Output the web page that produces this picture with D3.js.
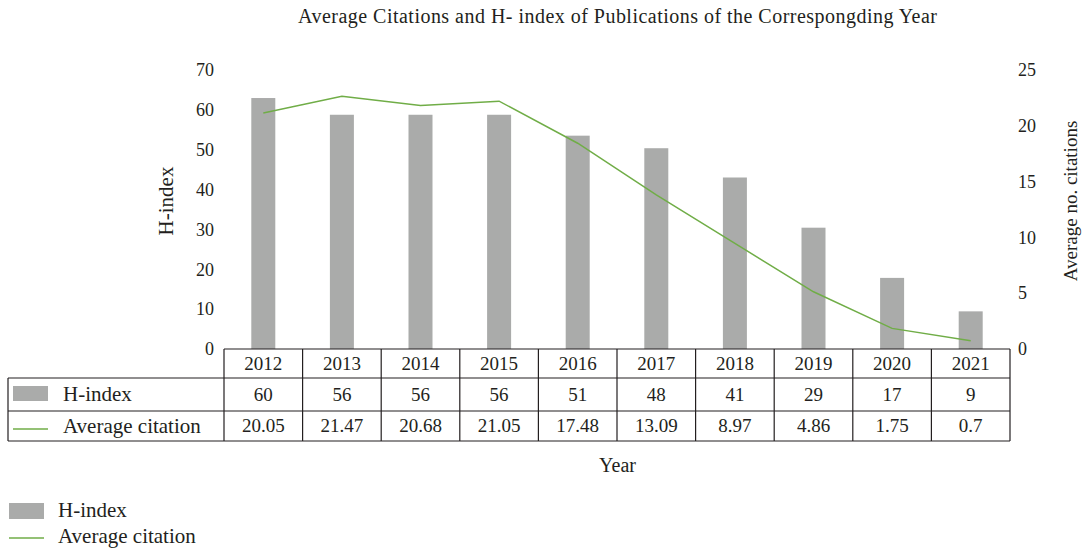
<!DOCTYPE html>
<html>
<head>
<meta charset="utf-8">
<script src="https://cdn.jsdelivr.net/npm/d3@7"></script>
<style>
  body { margin: 0; background: #fff; }
  text { font-family: "Liberation Serif", "Times New Roman", serif; fill: #231f20; }
</style>
</head>
<body>
<div id="chart"></div>
<script>
// data
const years = ["2012", "2013", "2014", "2015", "2016", "2017", "2018", "2019", "2020", "2021"];
const hIndex = [60, 56, 56, 56, 51, 48, 41, 29, 17, 9];
const avgCitation = [20.05, 21.47, 20.68, 21.05, 17.48, 13.09, 8.97, 4.86, 1.75, 0.7];
const leftTicks = [0, 10, 20, 30, 40, 50, 60, 70];
const rightTicks = [0, 5, 10, 15, 20, 25];
const citationLabels = ["20.05", "21.47", "20.68", "21.05", "17.48", "13.09", "8.97", "4.86", "1.75", "0.7"];

const W = 1085, H = 552;
const barColor = "#aaabaa", lineColor = "#70ad47", ink = "#231f20";

const svg = d3.select("#chart").append("svg")
    .attr("width", W).attr("height", H);

const plotTop = 70, plotBottom = 349;

let x = d3.scaleBand().domain(years).range([224, 1010]);

// axis scales (tick labels)
let yLeft = d3.scaleLinear().domain([0, 70]).range([plotBottom, plotTop]);
let yRight = d3.scaleLinear().domain([0, 25]).range([plotBottom, plotTop]);
// the marks in the source sit a little higher than the labels say
let yBar = d3.scaleLinear().domain([0, 66.7]).range([plotBottom, plotTop]);
let yLine = d3.scaleLinear().domain([0, 23.7]).range([plotBottom, plotTop]);

// title
svg.append("text")
   .attr("x", 617.5).attr("y", 23)
   .attr("text-anchor", "middle")
   .attr("textLength", 639)
   .attr("lengthAdjust", "spacing")
   .style("font-size", "20px")
   .text("Average Citations and H- index of Publications of the Correspongding Year");

// left axis
let gl = svg.append("g")
   .attr("transform", "translate(214,0)")
   .call(d3.axisLeft(yLeft).tickValues(leftTicks).tickSize(0).tickPadding(0));
gl.select(".domain").remove();
gl.selectAll("text").style("font-size", "18px").attr("fill", ink).attr("font-family", null);

// right axis
let gr = svg.append("g")
   .attr("transform", "translate(1018,0)")
   .call(d3.axisRight(yRight).tickValues(rightTicks).tickSize(0).tickPadding(0));
gr.select(".domain").remove();
gr.selectAll("text").style("font-size", "18px").attr("fill", ink).attr("font-family", null);

svg.append("text")
   .attr("transform", "translate(173,201) rotate(-90)")
   .attr("text-anchor", "middle")
   .style("font-size", "21px")
   .text("H-index");

svg.append("text")
   .attr("transform", "translate(1077,201) rotate(-90)")
   .attr("text-anchor", "middle")
   .style("font-size", "19px")
   .text("Average no. citations");

// bars
let bw = 24;
svg.selectAll(".bar")
   .data(years)
   .enter()
   .append("rect")
   .attr("class", "bar")
   .attr("x", (d) => x(d) + x.bandwidth() / 2 - bw / 2)
   .attr("y", (d, i) => yBar(hIndex[i]))
   .attr("width", bw)
   .attr("height", (d, i) => yBar(0) - yBar(hIndex[i]))
   .style("fill", barColor);

// line
let line = d3.line()
   .x((d, i) => x(years[i]) + x.bandwidth() / 2)
   .y((d) => yLine(d));
svg.append("path")
   .datum(avgCitation)
   .attr("d", line)
   .style("fill", "none")
   .style("stroke", lineColor)
   .style("stroke-width", 1.5);

// data table
const rows = [plotBottom, 378, 411, 441];
const tableLeft = 8;
let tg = svg.append("g").style("stroke", ink).style("stroke-width", 1.2).style("fill", "none");

// horizontal lines
tg.append("line").attr("x1", x.range()[0]).attr("x2", x.range()[1]).attr("y1", rows[0]).attr("y2", rows[0]);
[rows[1], rows[2], rows[3]].forEach(y0 => {
  tg.append("line").attr("x1", tableLeft).attr("x2", x.range()[1]).attr("y1", y0).attr("y2", y0);
});
// vertical lines
years.forEach(yr => {
  tg.append("line").attr("x1", x(yr)).attr("x2", x(yr)).attr("y1", rows[0]).attr("y2", rows[3]);
});
tg.append("line").attr("x1", x.range()[1]).attr("x2", x.range()[1]).attr("y1", rows[0]).attr("y2", rows[3]);
tg.append("line").attr("x1", tableLeft).attr("x2", tableLeft).attr("y1", rows[1]).attr("y2", rows[3]);

function cellText(vals, r) {
  svg.selectAll(null)
     .data(vals)
     .enter()
     .append("text")
     .attr("x", (d, i) => x(years[i]) + x.bandwidth() / 2)
     .attr("y", (rows[r] + rows[r + 1]) / 2)
     .attr("dy", "0.34em")
     .attr("text-anchor", "middle")
     .style("font-size", "19px")
     .text(d => d);
}
cellText(years, 0);
cellText(hIndex, 1);
cellText(citationLabels, 2);

// row labels with legend keys
svg.append("rect").attr("x", 13).attr("y", 386).attr("width", 35).attr("height", 15).style("fill", barColor);
svg.append("text").attr("x", 63).attr("y", (rows[1] + rows[2]) / 2).attr("dy", "0.32em")
   .style("font-size", "21px").text("H-index");
svg.append("line").attr("x1", 13).attr("x2", 48).attr("y1", 429).attr("y2", 429)
   .style("stroke", lineColor).style("stroke-width", 1.5);
svg.append("text").attr("x", 63).attr("y", (rows[2] + rows[3]) / 2).attr("dy", "0.32em")
   .style("font-size", "21px").text("Average citation");

// x title
svg.append("text")
   .attr("x", 617.5).attr("y", 472)
   .attr("text-anchor", "middle")
   .style("font-size", "20px")
   .text("Year");

// legend
svg.append("rect").attr("x", 9).attr("y", 503).attr("width", 35).attr("height", 16).style("fill", barColor);
svg.append("text").attr("x", 58).attr("y", 517).style("font-size", "21px").text("H-index");
svg.append("line").attr("x1", 9).attr("x2", 44).attr("y1", 538).attr("y2", 538)
   .style("stroke", lineColor).style("stroke-width", 1.5);
svg.append("text").attr("x", 58).attr("y", 543).style("font-size", "21px").text("Average citation");
</script>
</body>
</html>
